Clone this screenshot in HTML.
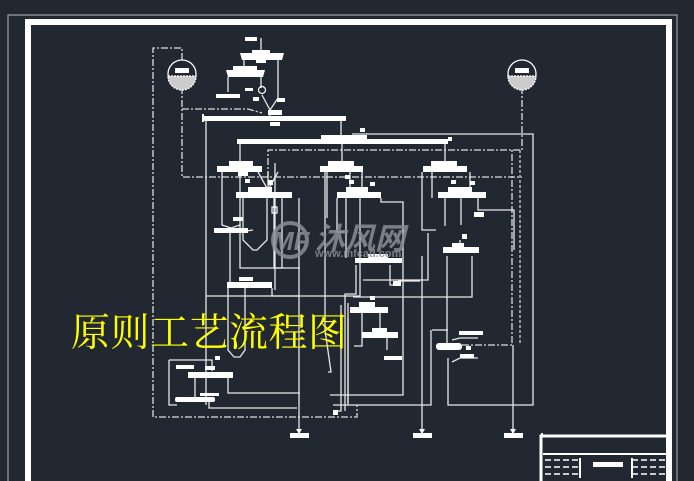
<!DOCTYPE html>
<html><head><meta charset="utf-8"><style>
html,body{margin:0;padding:0;background:#222831;}
svg{display:block}
</style></head><body>
<svg width="694" height="481" viewBox="0 0 694 481" xmlns="http://www.w3.org/2000/svg">
<rect width="694" height="481" fill="#222831"/>
<path d="M8 481 V15 H677 V481" fill="none" stroke="#9aa0a6" stroke-width="1.2"/>
<path d="M28 481 V22 H669 V481" fill="none" stroke="#fff" stroke-width="6"/>
<path d="M541 481 V436 H666" fill="none" stroke="#fff" stroke-width="3"/>
<line x1="543" y1="454" x2="666" y2="454" stroke="#fff" stroke-width="2"/>
<g stroke="#fff" stroke-width="1.5" stroke-dasharray="6 3">
<line x1="545" y1="460" x2="580" y2="460"/><line x1="545" y1="467" x2="580" y2="467"/><line x1="545" y1="474" x2="580" y2="474"/>
<line x1="632" y1="460" x2="666" y2="460"/><line x1="632" y1="467" x2="666" y2="467"/><line x1="632" y1="474" x2="666" y2="474"/>
</g>
<line x1="580" y1="458" x2="580" y2="478" stroke="#fff" stroke-width="2"/>
<line x1="632" y1="458" x2="632" y2="478" stroke="#fff" stroke-width="2"/>
<rect x="593" y="462" width="30" height="5" fill="#fff"/>
<rect x="541" y="433" width="2" height="4" fill="#fff"/>

<g fill="none" stroke="#ddd" stroke-width="1.3" stroke-dasharray="7 2 2 2">
<path d="M182 60 V48 H153 V417 H357 V405"/>
<path d="M182 87 V177 H522"/>
<path d="M522 87 V150 H268 V177"/>
<path d="M182 109 H248 L262 113"/>
<path d="M462 345 H512 V150"/>
</g>
<g fill="none" stroke="#ddd" stroke-width="1.2" stroke-dasharray="3 2">
<path d="M520 150 V345"/>
</g>

<g fill="none" stroke="#e8e8e8" stroke-width="1.3">
<path d="M261 38 V53"/>
<path d="M244 60 V67"/><path d="M278 60 V98 L270 110"/>
<path d="M228 77 V92"/><path d="M261 77 V88"/><path d="M262 95 L270 110 V116"/>
<path d="M206 121 V405"/><path d="M341 121 V139"/>
<path d="M240 144 V163"/><path d="M342 144 V163"/><path d="M445 144 V163"/>
<path d="M352 134 H533 V345"/>
<path d="M222 172 V225 L231 228 L240 225 V172"/>
<path d="M258 172 L268 190 L278 172"/><path d="M268 172 V191"/>
<path d="M275 163 V290"/><path d="M230 232 V282"/>
<path d="M243 198 V240 L253 250 L257 250 L267 240 V198"/>
<path d="M253 230 L240 232"/>
<path d="M274 198 V268 H282 V198"/>
<path d="M240 224 V268 H300"/>
<path d="M228 288 V350 L234 357 H240 L245 350 V288"/>
<path d="M272 288 V296 H300"/>
<path d="M206 296 H360 V198"/>
<path d="M299 198 V433"/>
<path d="M325 172 V330 L331 372 H328"/>
<path d="M350 172 V198"/><path d="M362 172 V198"/>
<path d="M327 172 V218"/>
<path d="M337 198 V232 H344"/><path d="M381 198 V202 H403 V395 H330"/>
<path d="M346 198 V258"/><path d="M356 265 V294 H345 V411"/>
<path d="M390 265 V285 H398"/><path d="M398 281 H420"/>
<path d="M363 280 H428 V233"/>
<path d="M422 172 V230 H436"/><path d="M432 172 V198"/><path d="M470 172 V190"/>
<path d="M445 198 V226"/><path d="M461 198 V225"/>
<path d="M478 198 V210 H514 V250"/>
<path d="M460 240 V247"/>
<path d="M447 256 V345"/><path d="M472 256 V297 H353"/>
<path d="M422 256 V433"/>
<path d="M362 313 V346 H354"/><path d="M380 313 V331"/>
<path d="M387 338 V350"/>
<path d="M432 330 H448"/><path d="M431 330 V405 H333"/>
<path d="M448 358 V405 H533 V345"/><path d="M513 345 V433"/>
<path d="M348 303 V405"/><path d="M341 305 V411 H333"/>
<path d="M169 360 H212 V371"/><path d="M169 360 V405 H177"/>
<path d="M195 378 V397"/><path d="M228 378 V393 H300"/>
<path d="M209 402 V408 H297"/>
<path d="M348 318 V403"/>
<path d="M452 340 L460 338 H478"/><path d="M452 362 L460 358 H478"/>
</g>
<g fill="#fff">
<path d="M296 429 L302 429 L299 434Z"/><path d="M419 429 L425 429 L422 434Z"/><path d="M510 429 L516 429 L513 434Z"/>
</g>

<g stroke="#fff" stroke-width="1.3">
<circle cx="182" cy="74" r="14" fill="#222831"/>
<circle cx="522" cy="74" r="14" fill="#222831"/>
<path d="M168 76 H196 A14 14 0 0 1 168 76Z" fill="#ccc" stroke-dasharray="2 1"/>
<path d="M508 76 H536 A14 14 0 0 1 508 76Z" fill="#ccc" stroke-dasharray="2 1"/>
</g>
<rect x="175" y="68" width="14" height="5" fill="#fff"/><rect x="515" y="68" width="14" height="5" fill="#fff"/>
<circle cx="262" cy="90" r="3.5" fill="none" stroke="#fff" stroke-width="1.2"/>

<g fill="#fff">
<rect x="245" y="37" width="12" height="4"/>
<path d="M240 53 H284 L282 60 H242Z"/><rect x="252" y="50" width="18" height="4"/><rect x="256" y="60" width="10" height="3"/>
<path d="M226 70 H265 L263 77 H228Z"/><rect x="233" y="66" width="24" height="5"/>
<rect x="216" y="94" width="24" height="4"/><rect x="245" y="88" width="8" height="3"/><rect x="253" y="97" width="6" height="4"/><rect x="277" y="98" width="8" height="4"/>
<rect x="268" y="110" width="14" height="5"/>
<rect x="204" y="116" width="142" height="5"/><rect x="202" y="114" width="2" height="8"/><rect x="270" y="122" width="10" height="4"/>
<rect x="237" y="139" width="211" height="5"/><rect x="321" y="135" width="46" height="5"/><rect x="360" y="128" width="5" height="4"/><rect x="448" y="137" width="4" height="4"/>
<rect x="217" y="166" width="45" height="6"/><rect x="229" y="161" width="24" height="6"/><rect x="238" y="172" width="10" height="4"/>
<rect x="320" y="166" width="43" height="6"/><rect x="328" y="161" width="26" height="6"/><rect x="345" y="175" width="5" height="4"/>
<rect x="423" y="166" width="44" height="6"/><rect x="431" y="161" width="26" height="6"/>
<rect x="236" y="192" width="56" height="6"/><rect x="248" y="187" width="24" height="6"/>
<rect x="337" y="192" width="44" height="6"/><rect x="346" y="187" width="22" height="6"/>
<rect x="438" y="192" width="48" height="6"/><rect x="448" y="187" width="24" height="6"/>
<rect x="245" y="179" width="5" height="4"/><rect x="268" y="180" width="5" height="5"/><rect x="349" y="180" width="5" height="4"/><rect x="370" y="182" width="5" height="4"/><rect x="451" y="180" width="5" height="4"/><rect x="470" y="181" width="5" height="4"/>
<rect x="214" y="228" width="34" height="5"/><rect x="233" y="217" width="10" height="4"/>
<rect x="474" y="212" width="10" height="5"/><rect x="462" y="234" width="5" height="5"/>
<rect x="443" y="247" width="36" height="6"/><rect x="452" y="243" width="12" height="4"/>
<rect x="355" y="258" width="47" height="5"/><rect x="368" y="254" width="20" height="5"/><rect x="393" y="281" width="8" height="5"/>
<rect x="227" y="282" width="45" height="6"/><rect x="239" y="277" width="14" height="4"/>
<rect x="350" y="307" width="38" height="6"/><rect x="359" y="302" width="16" height="5"/><rect x="370" y="296" width="5" height="4"/>
<rect x="362" y="332" width="36" height="6"/><rect x="372" y="328" width="15" height="4"/><rect x="384" y="356" width="18" height="4"/>
<rect x="436" y="343" width="26" height="7" rx="3"/><rect x="459" y="331" width="24" height="4"/><rect x="460" y="354" width="14" height="4"/><rect x="466" y="346" width="5" height="4"/>
<rect x="188" y="372" width="45" height="6"/><rect x="176" y="365" width="18" height="4"/><rect x="205" y="366" width="10" height="4"/><rect x="215" y="356" width="5" height="4"/>
<rect x="175" y="397" width="40" height="5" rx="2"/><rect x="200" y="393" width="19" height="3"/>
<rect x="333" y="410" width="5" height="5"/>
<rect x="290" y="433" width="19" height="5"/><rect x="413" y="433" width="19" height="5"/><rect x="504" y="433" width="19" height="5"/>
</g>
<rect x="272" y="207" width="5" height="6" fill="none" stroke="#fff" stroke-width="1.2"/>

<g fill="#8a8f96" opacity="0.85">
<circle cx="290" cy="240" r="17" fill="none" stroke="#8a8f96" stroke-width="4"/>
<text x="272" y="250" font-family="Liberation Sans, sans-serif" font-weight="bold" font-style="italic" font-size="26">MF</text>
<text x="315" y="249" font-family="Liberation Sans, 'Noto Sans CJK SC', sans-serif" font-weight="bold" font-style="italic" font-size="30">沐风网</text>
<text x="315" y="257" font-family="Liberation Sans, sans-serif" font-weight="bold" font-size="11">www.mfcad.com</text>
</g>

<text x="71" y="346" fill="#ffff00" font-family="'Liberation Serif','Noto Serif CJK SC',serif" font-size="39" letter-spacing="0.5">原则工艺流程图</text>
</svg>
</body></html>
